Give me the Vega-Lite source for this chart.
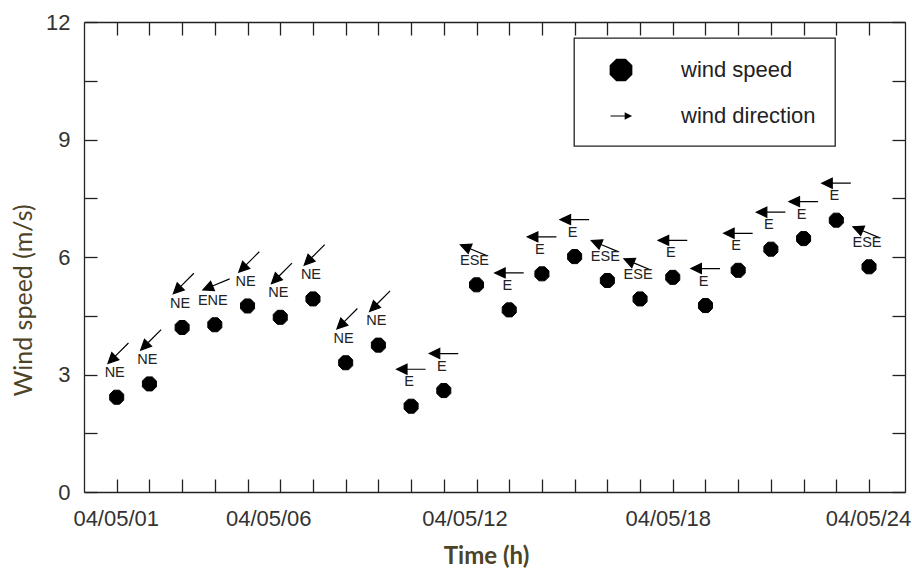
{
  "$schema": "https://vega.github.io/schema/vega-lite/v6.json",
  "width": 821,
  "height": 470,
  "autosize": "none",
  "padding": {"left": 84, "top": 22, "right": 7, "bottom": 79},
  "background": "white",
  "config": {
    "view": {"stroke": null},
    "font": "Liberation Sans",
    "axis": {
      "domainColor": "#222", "domainWidth": 1.3,
      "tickColor": "#222", "tickWidth": 1.3,
      "grid": false,
      "labelFont": "Liberation Sans", "labelFontSize": 22, "labelColor": "#333"
    },
    "legend": {"strokeWidth": 1.3}
  },
  "data": {
    "values": [
      {"hour": 1, "speed": 2.42, "dir": "NE"},
      {"hour": 2, "speed": 2.76, "dir": "NE"},
      {"hour": 3, "speed": 4.20, "dir": "NE"},
      {"hour": 4, "speed": 4.27, "dir": "ENE"},
      {"hour": 5, "speed": 4.75, "dir": "NE"},
      {"hour": 6, "speed": 4.46, "dir": "NE"},
      {"hour": 7, "speed": 4.93, "dir": "NE"},
      {"hour": 8, "speed": 3.30, "dir": "NE"},
      {"hour": 9, "speed": 3.75, "dir": "NE"},
      {"hour": 10, "speed": 2.19, "dir": "E"},
      {"hour": 11, "speed": 2.59, "dir": "E"},
      {"hour": 12, "speed": 5.29, "dir": "ESE"},
      {"hour": 13, "speed": 4.65, "dir": "E"},
      {"hour": 14, "speed": 5.57, "dir": "E"},
      {"hour": 15, "speed": 6.01, "dir": "E"},
      {"hour": 16, "speed": 5.40, "dir": "ESE"},
      {"hour": 17, "speed": 4.93, "dir": "ESE"},
      {"hour": 18, "speed": 5.48, "dir": "E"},
      {"hour": 19, "speed": 4.76, "dir": "E"},
      {"hour": 20, "speed": 5.66, "dir": "E"},
      {"hour": 21, "speed": 6.20, "dir": "E"},
      {"hour": 22, "speed": 6.47, "dir": "E"},
      {"hour": 23, "speed": 6.94, "dir": "E"},
      {"hour": 24, "speed": 5.75, "dir": "ESE"}
    ]
  },
  "resolve": {"axis": {"x": "independent", "y": "independent"}},
  "layer": [
    {
      "mark": {"type": "point", "filled": true, "fill": "black", "stroke": "black", "strokeWidth": 1, "opacity": 1, "size": 230},
      "encoding": {
        "x": {
          "field": "hour", "type": "quantitative",
          "scale": {"domain": [0, 25.1], "nice": false, "zero": false},
          "axis": {
            "orient": "bottom",
            "values": [1,2,3,4,5,6,7,8,9,10,11,12,13,14,15,16,17,18,19,20,21,22,23,24],
            "tickSize": -13, "labelPadding": 29, "labelOverlap": false, "labelFlush": false,
            "labelOffset": {"condition": [{"test": "datum.value == 6 || datum.value == 12", "value": -12}, {"test": "datum.value == 18", "value": -5}], "value": -1},
            "labelExpr": "indexof([1,6,12,18,24], datum.value) >= 0 ? '04/05/' + (datum.value < 10 ? '0' : '') + datum.value : ''",
            "title": "Time (h)", "titleFont": "Lato", "titleFontWeight": "bold", "titleFontSize": 24,
            "titleColor": "#4d4326", "titleX": 402, "titleY": 64, "titleBaseline": "middle"
          }
        },
        "y": {
          "field": "speed", "type": "quantitative",
          "scale": {"domain": [0, 12], "nice": false},
          "axis": {
            "orient": "left",
            "values": [0, 1.5, 3, 4.5, 6, 7.5, 9, 10.5, 12],
            "tickSize": -13, "labelPadding": 27, "labelOverlap": false,
            "labelExpr": "datum.value % 3 == 0 ? datum.label : ''",
            "title": "Wind speed (m/s)", "titleFont": "Lato", "titleFontWeight": "normal", "titleFontSize": 25,
            "titleColor": "#4d4326", "titleX": -61, "titleY": 278, "titleBaseline": "middle", "titleAngle": -90
          }
        },
        "shape": {
          "datum": "wind speed", "type": "nominal",
          "scale": {
            "domain": ["wind speed", "wind direction"],
            "range": [
              "M0.383,-0.924L0.924,-0.383L0.924,0.383L0.383,0.924L-0.383,0.924L-0.924,0.383L-0.924,-0.383L-0.383,-0.924Z",
              "M0.9,0L0.3,-0.3L0.3,0.3ZM0.35,-0.05L-0.85,-0.05L-0.85,0.05L0.35,0.05Z"
            ]
          },
          "legend": {
            "orient": "none", "legendX": 490, "legendY": 16, "title": null,
            "strokeColor": "#222", "fillColor": "white",
            "padding": 19, "symbolOffset": 15, "labelOffset": 47, "rowPadding": 18,
            "symbolSize": 605, "symbolFillColor": "black", "symbolStrokeColor": "black", "symbolStrokeWidth": 1.4,
            "labelFont": "Liberation Sans", "labelFontSize": 22, "labelColor": "#222"
          }
        }
      }
    },
    {
      "mark": {
        "type": "point",
        "shape": "M0.47,-0.366L-0.25,-0.711L-0.25,-0.021ZM-0.25,-0.366L-1.53,-0.366",
        "filled": true, "fill": "black", "stroke": "black", "strokeWidth": 1.2, "opacity": 1,
        "size": 841, "xOffset": -7.7, "yOffset": -42.3
      },
      "encoding": {
        "x": {
          "field": "hour", "type": "quantitative",
          "scale": {"domain": [0, 25.1], "nice": false, "zero": false},
          "axis": {"orient": "top", "values": [1,2,3,4,5,6,7,8,9,10,11,12,13,14,15,16,17,18,19,20,21,22,23,24], "tickSize": -13, "labels": false, "title": null}
        },
        "y": {
          "field": "speed", "type": "quantitative",
          "scale": {"domain": [0, 12], "nice": false},
          "axis": {"orient": "right", "values": [0, 1.5, 3, 4.5, 6, 7.5, 9, 10.5, 12], "tickSize": -13, "labels": false, "title": null}
        },
        "angle": {
          "field": "dir", "type": "nominal",
          "scale": {"type": "ordinal", "domain": ["NE", "ENE", "E", "ESE"], "range": [135, 157.5, 180, 202.5]},
          "legend": null
        }
      }
    },
    {
      "mark": {"type": "text", "font": "Liberation Sans", "fontSize": 14.5, "color": "#222", "baseline": "middle", "yOffset": -24, "xOffset": -2},
      "encoding": {
        "x": {"field": "hour", "type": "quantitative", "scale": {"domain": [0, 25.1], "nice": false, "zero": false}, "axis": null},
        "y": {"field": "speed", "type": "quantitative", "scale": {"domain": [0, 12], "nice": false}, "axis": null},
        "text": {"field": "dir", "type": "nominal"}
      }
    }
  ]
}
